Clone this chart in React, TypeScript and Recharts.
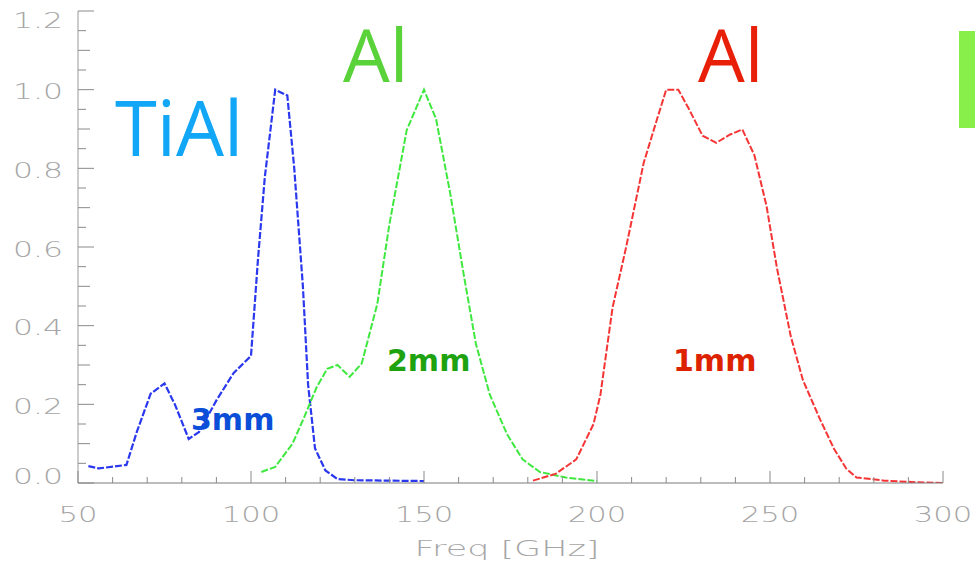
import React from 'react'
import { LineChart, Line, XAxis, YAxis } from 'recharts'

// 3mm band (TiAl)
const tialFreq = [53, 56, 64, 67, 71, 75, 78, 82, 85, 90, 95, 100, 102, 104, 107, 110.5, 112.5, 115, 116.5, 118.5, 121.5, 125, 130, 140, 150]
const tialResp = [0.043, 0.037, 0.046, 0.13, 0.227, 0.253, 0.2, 0.112, 0.13, 0.21, 0.28, 0.323, 0.567, 0.778, 1.0, 0.985, 0.8, 0.5, 0.25, 0.088, 0.032, 0.01, 0.007, 0.006, 0.005]

// 2mm band (Al)
const al2Freq = [103, 107, 112, 115.5, 119, 122, 125, 128.5, 132, 136.5, 140, 145, 150, 153.5, 157.5, 161.5, 165, 169, 174, 178.5, 183.5, 191, 200]
const al2Resp = [0.028, 0.041, 0.1, 0.17, 0.244, 0.29, 0.3, 0.27, 0.304, 0.455, 0.658, 0.897, 1.0, 0.925, 0.74, 0.529, 0.354, 0.225, 0.124, 0.06, 0.028, 0.014, 0.005]

// 1mm band (Al)
const al1Freq = [181.5, 188, 194, 199, 201, 204.5, 208.5, 213.5, 217, 220, 223.5, 226.5, 230.5, 234.5, 238.5, 242, 245.5, 249, 252, 256, 259.5, 264.5, 268.5, 272, 275, 283, 292, 300]
const al1Resp = [0.006, 0.023, 0.06, 0.15, 0.225, 0.446, 0.603, 0.814, 0.915, 1.0, 1.0, 0.952, 0.883, 0.865, 0.886, 0.899, 0.833, 0.704, 0.547, 0.373, 0.262, 0.161, 0.087, 0.037, 0.014, 0.006, 0.002, 0]

const xTicks = [50, 60, 70, 80, 90, 100, 110, 120, 130, 140, 150, 160, 170, 180, 190, 200, 210, 220, 230, 240, 250, 260, 270, 280, 290, 300]
const yTicks = [0, 0.05, 0.1, 0.15, 0.2, 0.25, 0.3, 0.35, 0.4, 0.45, 0.5, 0.55, 0.6, 0.65, 0.7, 0.75, 0.8, 0.85, 0.9, 0.95, 1.0, 1.05, 1.1, 1.15, 1.2]

const toPoints = (f: number[], v: number[]) => f.map((x, i) => ({ f: x, v: v[i] }))
const tial = toPoints(tialFreq, tialResp)
const al2 = toPoints(al2Freq, al2Resp)
const al1 = toPoints(al1Freq, al1Resp)

const TICK = '#8a8a8a'
const LABEL = '#a6a6a6'
const labelFont = { fontFamily: 'DejaVu Sans', fontWeight: 200, fontSize: 22 }

const isMajorX = (v: number) => v % 50 === 0
const isMajorY = (v: number) => Math.abs(v * 5 - Math.round(v * 5)) < 1e-6
const isMidY = (v: number) => Math.abs(v * 10 - Math.round(v * 10)) < 1e-6

function BottomTick(props: any) {
  const { x, y, payload } = props
  const v = payload.value
  const major = isMajorX(v)
  const s = String(v)
  return (
    <g>
      <line x1={x} x2={x} y1={y} y2={y - (major ? 12 : 6)} stroke={TICK} />
      {major && (
        <text
          x={x}
          y={y + 31}
          textAnchor="middle"
          dominantBaseline="central"
          textLength={s.length * 19.5}
          lengthAdjust="spacingAndGlyphs"
          fill={LABEL}
          style={labelFont}
        >
          {s}
        </text>
      )}
    </g>
  )
}

function TopTick(props: any) {
  const { x, y, payload } = props
  const major = isMajorX(payload.value)
  return <line x1={x} x2={x} y1={y} y2={y + (major ? 12 : 6)} stroke={TICK} />
}

function LeftTick(props: any) {
  const { x, y, payload } = props
  const v = payload.value
  const len = isMajorY(v) ? 16 : isMidY(v) ? 12 : 8
  const shift = v === 0 ? -7 : v >= 1.19 ? 9 : 2
  return (
    <g>
      <line x1={x} x2={x + len} y1={y} y2={y} stroke={TICK} />
      {isMajorY(v) && (
        <text
          x={x - 15}
          y={y + shift}
          textAnchor="end"
          dominantBaseline="central"
          textLength={50}
          lengthAdjust="spacingAndGlyphs"
          fill={LABEL}
          style={labelFont}
        >
          {v.toFixed(1)}
        </text>
      )}
    </g>
  )
}

function RightTick(props: any) {
  const { x, y, payload } = props
  const v = payload.value
  const len = isMajorY(v) ? 16 : isMidY(v) ? 12 : 8
  return <line x1={x} x2={x - len} y1={y} y2={y} stroke={TICK} />
}

export default function App() {
  return (
    <div style={{ position: 'absolute', left: 0, top: 0, width: 975, height: 566, background: '#fff', overflow: 'hidden' }}>
      <LineChart width={975} height={566} margin={{ top: 11, right: 32, left: 0, bottom: 0 }}>
        <XAxis
          dataKey="f"
          type="number"
          domain={[50, 300]}
          ticks={xTicks}
          interval={0}
          allowDataOverflow
          height={83}
          tickSize={0}
          tickMargin={0}
          tickLine={false}
          axisLine={{ stroke: '#7a7a7a' }}
          tick={<BottomTick />}
        />
        <XAxis
          xAxisId="top"
          orientation="top"
          type="number"
          domain={[50, 300]}
          ticks={xTicks}
          interval={0}
          allowDataOverflow
          height={0}
          tickSize={0}
          tickMargin={0}
          tickLine={false}
          axisLine={{ stroke: '#c4c4c4' }}
          tick={<TopTick />}
        />
        <YAxis
          type="number"
          domain={[0, 1.2]}
          ticks={yTicks}
          interval={0}
          allowDataOverflow
          width={78}
          tickSize={0}
          tickMargin={0}
          tickLine={false}
          axisLine={{ stroke: '#9a9a9a' }}
          tick={<LeftTick />}
        />
        <YAxis
          yAxisId="right"
          orientation="right"
          type="number"
          domain={[0, 1.2]}
          ticks={yTicks}
          interval={0}
          allowDataOverflow
          width={0}
          tickSize={0}
          tickMargin={0}
          tickLine={false}
          axisLine={{ stroke: '#c4c4c4' }}
          tick={<RightTick />}
        />
        <Line data={tial} dataKey="v" type="linear" stroke="#2a38ee" strokeWidth={2.2} strokeDasharray="7 2" dot={false} isAnimationActive={false} />
        <Line data={al2} dataKey="v" type="linear" stroke="#3fe83f" strokeWidth={2} strokeDasharray="7 2" dot={false} isAnimationActive={false} />
        <Line data={al1} dataKey="v" type="linear" stroke="#f53535" strokeWidth={2} strokeDasharray="7 2" dot={false} isAnimationActive={false} />
      </LineChart>

      <svg width={975} height={566} style={{ position: 'absolute', left: 0, top: 0, pointerEvents: 'none' }}>
        <text x={115} y={156} fill="#12a6f6" style={{ fontFamily: 'Open Sans', fontSize: 76 }}>TiAl</text>
        <text x={343} y={82} fill="#5ad23a" style={{ fontFamily: 'Open Sans', fontSize: 74 }}>Al</text>
        <text x={698} y={82} fill="#e8200a" style={{ fontFamily: 'Open Sans', fontSize: 74 }}>Al</text>
        <text x={191} y={430} fill="#0b4fd8" style={{ fontFamily: 'DejaVu Sans', fontWeight: 'bold', fontSize: 30 }}>3mm</text>
        <text x={387} y={371} fill="#1fa20f" style={{ fontFamily: 'DejaVu Sans', fontWeight: 'bold', fontSize: 30 }}>2mm</text>
        <text x={673} y={371} fill="#dd2200" style={{ fontFamily: 'DejaVu Sans', fontWeight: 'bold', fontSize: 30 }}>1mm</text>
        <text
          x={507}
          y={548}
          textAnchor="middle"
          dominantBaseline="central"
          textLength={185}
          lengthAdjust="spacingAndGlyphs"
          fill={LABEL}
          style={labelFont}
        >
          Freq [GHz]
        </text>
        <rect x={959} y={31} width={20} height={97} fill="#88ee4a" />
      </svg>
    </div>
  )
}
